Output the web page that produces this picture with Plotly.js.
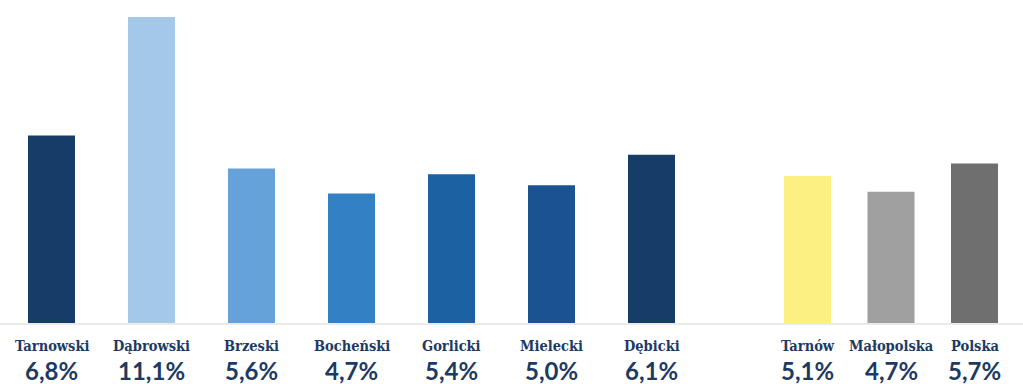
<!DOCTYPE html>
<html>
<head>
<meta charset="utf-8">
<script src="https://cdn.plot.ly/plotly-3.0.1.min.js"></script>
<style>html,body{margin:0;padding:0;background:#fff;}#chart{width:1023px;height:384px;}</style>
</head>
<body>
<div id="chart"></div>
<script>
// Districts (powiaty)
const districts = ["Tarnowski", "Dąbrowski", "Brzeski", "Bocheński", "Gorlicki", "Mielecki", "Dębicki"];
const districtValues = [6.8, 11.1, 5.6, 4.7, 5.4, 5.0, 6.1];
const districtLabels = ["6,8%", "11,1%", "5,6%", "4,7%", "5,4%", "5,0%", "6,1%"];
const districtColors = ["#153d68", "#a3c8e8", "#64a2d9", "#3381c4", "#1a62a1", "#1b5290", "#153d68"];

// Comparison areas (bar heights as drawn in the picture; labels as printed)
const areas = ["Tarnów", "Małopolska", "Polska"];
const areaValues = [5.33, 4.76, 5.79];
const areaLabels = ["5,1%", "4,7%", "5,7%"];
const areaColors = ["#fcf083", "#a0a0a0", "#6f6f6f"];

const navy = "#1c3a62";

const traces = [
  {type: "bar", x: districts, y: districtValues, marker: {color: districtColors}, width: 0.47, xaxis: "x", yaxis: "y", hoverinfo: "none"},
  {type: "bar", x: areas, y: areaValues, marker: {color: areaColors}, width: 0.563, xaxis: "x2", yaxis: "y2", hoverinfo: "none"}
];

const annotations = [];
function addLabels(cats, labels, xref) {
  cats.forEach((c, i) => {
    annotations.push({x: c, xref: xref, y: -0.072, yref: "paper", text: "<b>" + c + "</b>", showarrow: false,
      font: {family: "DejaVu Serif Condensed, DejaVu Serif", size: 14.5, color: navy}, xanchor: "center", yanchor: "middle"});
    annotations.push({x: c, xref: xref, y: -0.155, yref: "paper", text: "<b>" + labels[i] + "</b>", showarrow: false,
      font: {family: "Lato", size: 24, color: navy}, xanchor: "center", yanchor: "middle"});
  });
}
addLabels(districts, districtLabels, "x");
addLabels(areas, areaLabels, "x2");

const W = 1023;
const layout = {
  width: 1023, height: 384,
  margin: {l: 0, r: 0, t: 17, b: 61},
  paper_bgcolor: "#fff", plot_bgcolor: "#fff",
  showlegend: false,
  xaxis: {domain: [1.5 / W, 701.5 / W], range: [-0.5, 6.5], type: "category", showticklabels: false, showgrid: false, zeroline: false, showline: false, ticks: ""},
  xaxis2: {domain: [765.75 / W, 1016.25 / W], range: [-0.5, 2.5], type: "category", showticklabels: false, showgrid: false, zeroline: false, showline: false, ticks: "", anchor: "y2"},
  yaxis: {range: [0, 11.1], visible: false, showgrid: false, zeroline: false},
  yaxis2: {range: [0, 11.1], visible: false, showgrid: false, zeroline: false, anchor: "x2", overlaying: "y"},
  shapes: [{type: "line", xref: "paper", yref: "paper", x0: 0, x1: 1, y0: -0.003, y1: -0.003, line: {color: "#e3e3e3", width: 1.5}}],
  annotations: annotations
};

Plotly.newPlot("chart", traces, layout, {displayModeBar: false, staticPlot: true});
</script>
</body>
</html>
